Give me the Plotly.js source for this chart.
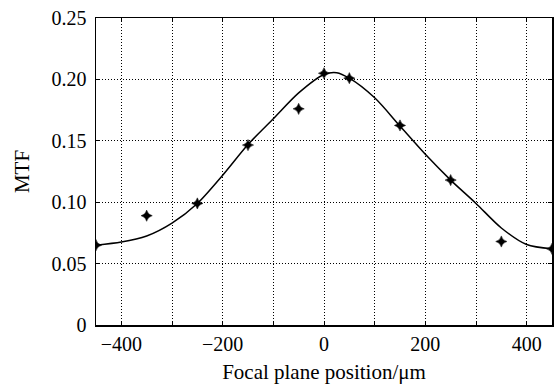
<!DOCTYPE html>
<html>
<head>
<meta charset="utf-8">
<script src="https://cdn.plot.ly/plotly-3.0.1.min.js"></script>
<style>html,body{margin:0;padding:0;background:#fff;}#chart{width:554px;height:388px;}</style>
</head>
<body>
<div id="chart"></div>
<script>
// Measured data points
const measX = [-450, -350, -250, -150, -50, 0, 50, 150, 250, 350, 450];
const measY = [0.065, 0.089, 0.099, 0.1465, 0.176, 0.205, 0.201, 0.1625, 0.118, 0.068, 0.062];
// Fitted curve
const fitX = [-450, -400, -350, -300, -250, -200, -150, -100, -50, 0, 25, 50, 100, 150, 200, 250, 300, 350, 400, 450];
const fitY = [0.065, 0.0675, 0.0725, 0.083, 0.099, 0.122, 0.147, 0.168, 0.189, 0.204, 0.2055, 0.201, 0.185, 0.162, 0.139, 0.118, 0.099, 0.079, 0.0655, 0.062];
// Ticks
const xTickVals = [-400, -300, -200, -100, 0, 100, 200, 300, 400];
const xTickText = ["\u2212400", "", "\u2212200", "", "0", "", "200", "", "400"];
const yTickVals = [0, 0.05, 0.10, 0.15, 0.20, 0.25];
const yTickText = ["0", "0.05", "0.10", "0.15", "0.20", "0.25"];

const font = {family: "Times New Roman", size: 20, color: "#000"};
const titleFont = {family: "Times New Roman", size: 21, color: "#000"};

const traces = [
  {x: fitX, y: fitY, type: "scatter", mode: "lines",
   line: {color: "#000", width: 1.5, shape: "spline", smoothing: 0.8},
   hoverinfo: "skip", showlegend: false},
  {x: measX, y: measY, type: "scatter", mode: "markers",
   marker: {symbol: "star-diamond", size: 8, color: "#000", line: {width: 0.5, color: "#000"}},
   cliponaxis: true, showlegend: false}
];

const axisCommon = {
  showline: true, linecolor: "#000", linewidth: 1.5, mirror: "ticks",
  ticks: "inside", ticklen: 4, tickwidth: 1, tickcolor: "#000",
  showgrid: true, gridcolor: "#000", gridwidth: 1, griddash: "1px,2px",
  zeroline: false, tickfont: font, tickmode: "array"
};

const layout = {
  width: 554, height: 388,
  margin: {l: 96, r: 2, t: 18, b: 63},
  paper_bgcolor: "#fff", plot_bgcolor: "#fff",
  font: font,
  xaxis: Object.assign({}, axisCommon, {
    range: [-450, 450], tickvals: xTickVals, ticktext: xTickText,
    title: {text: "Focal plane position/\u03bcm", font: titleFont, standoff: 11}
  }),
  yaxis: Object.assign({}, axisCommon, {
    range: [0, 0.25], tickvals: yTickVals, ticktext: yTickText,
    ticklabelstandoff: 4,
    title: {text: "MTF", font: titleFont, standoff: 16}
  })
};

Plotly.newPlot("chart", traces, layout, {staticPlot: true, displayModeBar: false});
</script>
</body>
</html>
